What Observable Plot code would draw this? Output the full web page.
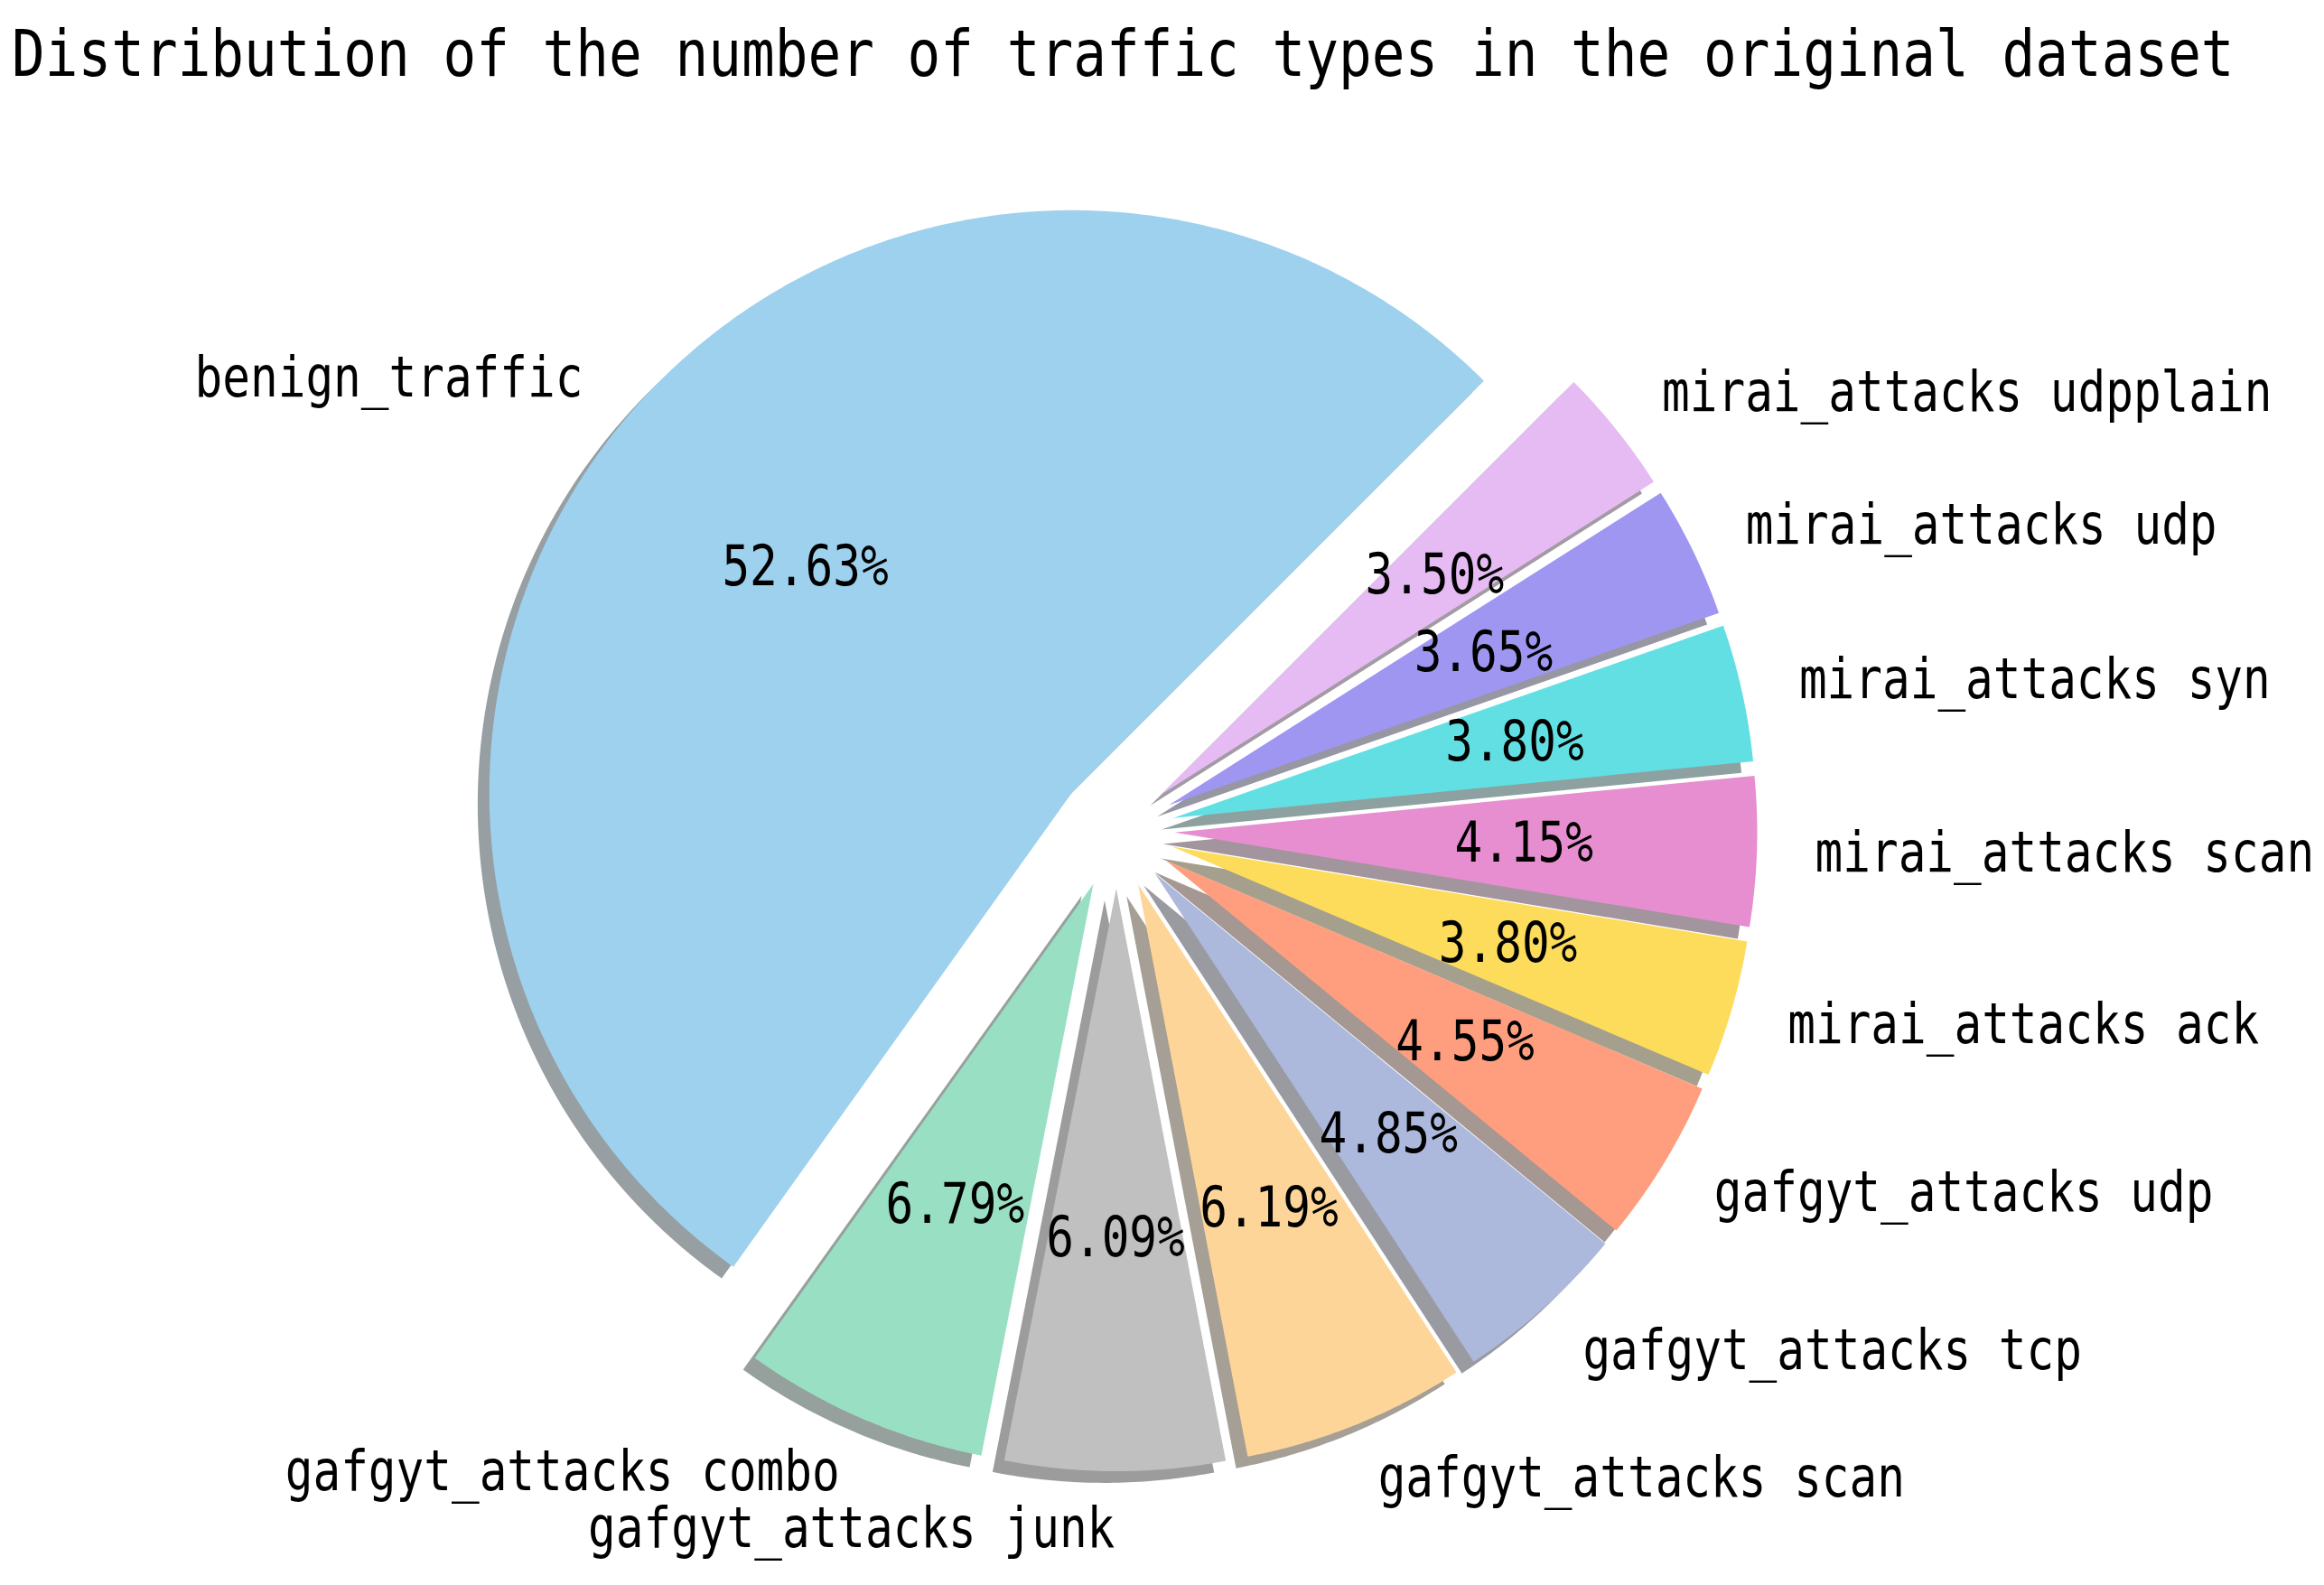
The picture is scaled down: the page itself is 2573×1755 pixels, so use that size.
<!DOCTYPE html>
<html>
<head>
<meta charset="utf-8">
<script src="https://cdn.jsdelivr.net/npm/d3@7"></script>
<script src="https://cdn.jsdelivr.net/npm/@observablehq/plot@0.6"></script>
<style>
  html, body { margin: 0; padding: 0; background: #fff; }
  #title { height: 118px; line-height: 118px; padding-left: 13px; font-family: "DejaVu Sans Mono", monospace; font-size: 61px; color: #000; white-space: nowrap; transform: scaleY(1.18); transform-origin: 0 50%; }
  #chart svg { display: block; }
</style>
</head>
<body>
<div id="title">Distribution of the number of traffic types in the original dataset</div>
<div id="chart"></div>
<script>
const categories = [
  "benign_traffic",
  "gafgyt_attacks combo",
  "gafgyt_attacks junk",
  "gafgyt_attacks scan",
  "gafgyt_attacks tcp",
  "gafgyt_attacks udp",
  "mirai_attacks ack",
  "mirai_attacks scan",
  "mirai_attacks syn",
  "mirai_attacks udp",
  "mirai_attacks udpplain"
];
const shares = [52.63, 6.79, 6.09, 6.19, 4.85, 4.55, 3.80, 4.15, 3.80, 3.65, 3.50];
const palette = ["#9dd1ee", "#99dfc3", "#c0c0c0", "#fed599", "#acb8dc", "#fe9e7f", "#fddc5b", "#e68ecf", "#62dfe3", "#9f96f1", "#e6bbf3"];

// pie settings (matplotlib-like)
const startAngle = 45, explode = 0.1, pctDistance = 0.6, labelDistance = 1.1, shadowOffset = 0.02;

const W = 2573, H = 1637;
const cx = 1235.5, cy = 801, R = 645;

const total = d3.sum(shares);
let cum = 0;
const slices = categories.map((name, i) => {
  const a0 = startAngle + 360 * cum / total;
  cum += shares[i];
  const a1 = startAngle + 360 * cum / total;
  const am = (a0 + a1) / 2 * Math.PI / 180;
  const ox = explode * Math.cos(am), oy = explode * Math.sin(am);
  return {name, share: shares[i], color: palette[i], a0, a1, am, ox, oy};
});

const shade = c => { const r = d3.rgb(c); return d3.rgb(0.3 * r.r, 0.3 * r.g, 0.3 * r.b).formatHex(); };

const outline = [];
for (const s of slices) {
  const n = Math.max(2, Math.ceil((s.a1 - s.a0) / 0.5));
  outline.push({name: s.name, color: s.color, shadow: shade(s.color), x: s.ox, y: s.oy});
  for (let k = 0; k <= n; k++) {
    const t = (s.a0 + (s.a1 - s.a0) * k / n) * Math.PI / 180;
    outline.push({name: s.name, color: s.color, shadow: shade(s.color), x: s.ox + Math.cos(t), y: s.oy + Math.sin(t)});
  }
}

const labelPts = slices.map(s => ({
  text: s.name,
  x: s.ox + labelDistance * Math.cos(s.am),
  y: s.oy + labelDistance * Math.sin(s.am)
}));
const pctPts = slices.map(s => ({
  text: s.share.toFixed(2) + "%",
  x: s.ox + pctDistance * Math.cos(s.am),
  y: s.oy + pctDistance * Math.sin(s.am)
}));

const font = "DejaVu Sans Mono";
const chart = Plot.plot({
  width: W,
  height: H,
  margin: 0,
  style: {fontFamily: font, background: "#fff"},
  x: {domain: [-cx / R, (W - cx) / R], axis: null},
  y: {domain: [-(H - cy) / R, cy / R], axis: null},
  color: {type: "identity"},
  marks: [
    Plot.line(outline, {x: d => d.x - shadowOffset, y: d => d.y - shadowOffset, z: "name", fill: "shadow", fillOpacity: 0.5, stroke: "none", curve: "linear"}),
    Plot.line(outline, {x: "x", y: "y", z: "name", fill: "color", stroke: "none", curve: "linear"}),
    Plot.text(labelPts.filter(d => d.x > 0), {x: "x", y: "y", text: "text", textAnchor: "start", fontSize: 51, fill: "#000", fontFamily: font}),
    Plot.text(labelPts.filter(d => d.x <= 0), {x: "x", y: "y", text: "text", textAnchor: "end", fontSize: 51, fill: "#000", fontFamily: font}),
    Plot.text(pctPts, {x: "x", y: "y", text: "text", textAnchor: "middle", fontSize: 51, fill: "#000", fontFamily: font})
  ]
});
// stretch glyphs vertically to mimic the tall, narrow original typeface
chart.querySelectorAll("text").forEach(t => {
  const tr = t.getAttribute("transform");
  if (tr && tr.includes("translate")) t.setAttribute("transform", tr + " scale(1,1.22)");
});
document.getElementById("chart").appendChild(chart);
</script>
</body>
</html>
